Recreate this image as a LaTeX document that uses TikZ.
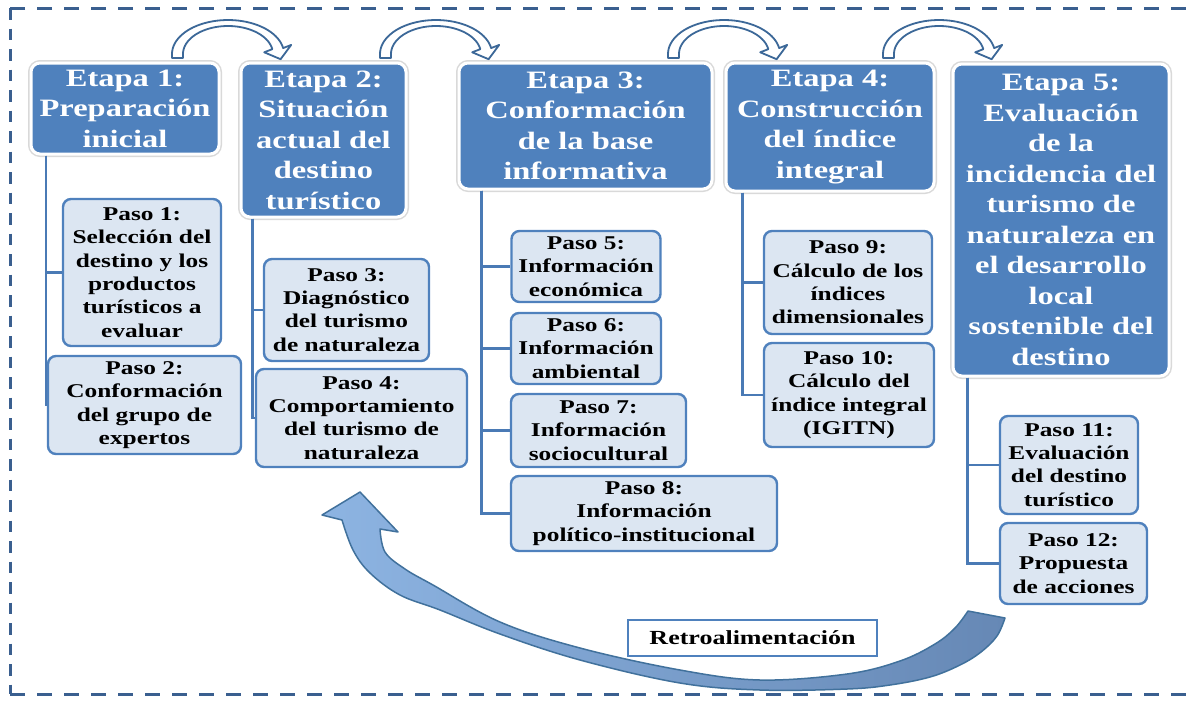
\documentclass[tikz,border=0pt]{standalone}
\usepackage{fontspec}
\setmainfont{Liberation Serif}[FakeStretch=1.3]
\definecolor{stagefill}{HTML}{4F81BD}
\definecolor{stepfill}{HTML}{DCE6F2}
\definecolor{stepline}{HTML}{4F81BD}
\definecolor{linkc}{HTML}{4A7AB5}
\definecolor{arrline}{HTML}{3C6898}
\definecolor{borderc}{HTML}{3A5F8F}
\definecolor{fbl}{HTML}{8DB4E2}
\definecolor{fbr}{HTML}{6688B5}
\definecolor{fbline}{HTML}{41719C}
\newcommand\hollowarrow[1]{%
\begin{scope}[shift={(#1,0)}]
\draw[toparrow] (0,58) -- plot[domain=180:350,samples=40] ({56+56*cos(\x)},{54+34*sin(\x)}) -- (119.2,44.9) -- (108.6,59.2) -- (92.2,52.3) -- plot[domain=350:180,samples=40] ({56+45*cos(\x)},{54+28*sin(\x)}) -- (11,58) -- cycle;
\end{scope}}
\begin{document}
\begin{tikzpicture}[x=1pt,y=-1pt,
  stagebox/.style={rectangle, rounded corners=9pt, fill=stagefill, draw=white, line width=3pt,
    preaction={draw=black!15, line width=6pt}, text=white,
    font=\fontsize{25}{30.5}\selectfont\bfseries, align=center, inner sep=0pt},
  pasobox/.style={rectangle, rounded corners=8pt, fill=stepfill, draw=stepline, line width=2.4pt,
    text=black, font=\fontsize{19.5}{23.3}\selectfont\bfseries, align=center, inner sep=0pt},
  retrobox/.style={rectangle, fill=white, draw=stepline, line width=2.6pt, text=black,
    font=\fontsize{20}{24}\selectfont\bfseries, inner sep=0pt},
  link/.style={draw=linkc, line width=2.6pt},
  toparrow/.style={fill=white, draw=arrline, line width=1.8pt, line join=round},
  border/.style={draw=borderc, line width=3pt}
]
\useasboundingbox (0,0) rectangle (1186,702);
% dashed frame
\draw[border, dash pattern=on 15pt off 12pt] (1186,8) -- (10,8);
\draw[border, dash pattern=on 11.5pt off 9pt] (10,8) -- (10,694);
\draw[border, dash pattern=on 15pt off 12pt] (10,694) -- (1186,694);

% stage nodes
\node[stagebox, minimum width=188pt, minimum height=91pt] (e1) at (125,108.5) {Etapa 1:\\Preparación\\inicial};
\node[stagebox, minimum width=165pt, minimum height=154pt] (e2) at (323.5,140) {Etapa 2:\\Situación\\actual del\\destino\\turístico};
\node[stagebox, minimum width=253pt, minimum height=126pt] (e3) at (585.5,126) {Etapa 3:\\Conformación\\de la base\\informativa};
\node[stagebox, minimum width=208pt, minimum height=128pt] (e4) at (830,127) {Etapa 4:\\Construcción\\del índice\\integral};
\node[stagebox, minimum width=216pt, minimum height=312pt] (e5) at (1061,220) {Etapa 5:\\Evaluación\\de la\\incidencia del\\turismo de\\naturaleza en\\el desarrollo\\local\\sostenible del\\destino};

% paso nodes
\node[pasobox, minimum width=158pt, minimum height=147pt] (p1) at (142,272.5) {Paso 1:\\Selección del\\destino y los\\productos\\turísticos a\\evaluar};
\node[pasobox, minimum width=193pt, minimum height=98pt] (p2) at (144.5,405) {Paso 2:\\Conformación\\del grupo de\\expertos};
\node[pasobox, minimum width=165pt, minimum height=102pt] (p3) at (346.5,310) {Paso 3:\\Diagnóstico\\del turismo\\de naturaleza};
\node[pasobox, minimum width=211pt, minimum height=98pt] (p4) at (361.5,418) {Paso 4:\\Comportamiento\\del turismo de\\naturaleza};
\node[pasobox, minimum width=149pt, minimum height=71pt] (p5) at (586,266.5) {Paso 5:\\Información\\económica};
\node[pasobox, minimum width=150pt, minimum height=71pt] (p6) at (586,348.5) {Paso 6:\\Información\\ambiental};
\node[pasobox, minimum width=175pt, minimum height=73pt] (p7) at (598.5,430.5) {Paso 7:\\Información\\sociocultural};
\node[pasobox, minimum width=266pt, minimum height=75pt] (p8) at (644,513.5) {Paso 8:\\Información\\político-institucional};
\node[pasobox, minimum width=168pt, minimum height=103pt] (p9) at (848,282.5) {Paso 9:\\Cálculo de los\\índices\\dimensionales};
\node[pasobox, minimum width=170pt, minimum height=104pt] (p10) at (849,395) {Paso 10:\\Cálculo del\\índice integral\\(IGITN)};
\node[pasobox, minimum width=138pt, minimum height=98pt] (p11) at (1069,465) {Paso 11:\\Evaluación\\del destino\\turístico};
\node[pasobox, minimum width=147pt, minimum height=81pt] (p12) at (1073.5,563.5) {Paso 12:\\Propuesta\\de acciones};

% connectors
\draw[link] ([xshift=16.5pt]e1.south west) |- (p1.west);
\draw[link] ([xshift=16.5pt]e1.south west) |- (p2.west);
\draw[link] ([xshift=13pt]e2.south west) |- (p3.west);
\draw[link] ([xshift=13pt]e2.south west) |- (p4.west);
\draw[link] ([xshift=24pt]e3.south west) |- (p5.west);
\draw[link] ([xshift=24pt]e3.south west) |- (p6.west);
\draw[link] ([xshift=24pt]e3.south west) |- (p7.west);
\draw[link] ([xshift=24pt]e3.south west) |- (p8.west);
\draw[link] ([xshift=18pt]e4.south west) |- (p9.west);
\draw[link] ([xshift=18pt]e4.south west) |- (p10.west);
\draw[link] ([xshift=16pt]e5.south west) |- (p11.west);
\draw[link] ([xshift=16pt]e5.south west) |- (p12.west);

% top hollow arrows
\hollowarrow{172}
\hollowarrow{380}
\hollowarrow{668}
\hollowarrow{883}

% feedback arrow
\draw[left color=fbl, right color=fbr, draw=fbline, line width=1.5pt, line join=round]
  (360,492) -- (398,532) -- (380,529)
  -- plot[smooth, tension=0.6] coordinates {(380,529) (385,552) (405,569) (433,585) (500,622) (580,648) (680,670) (760,680) (847,674) (900,661) (935,644) (955,628) (968,611)}
  -- (1005,618)
  -- plot[smooth, tension=0.6] coordinates {(1005,618) (997,636) (981,652) (960,665) (930,677) (890,685) (847,689) (760,690) (680,683) (580,660) (500,634) (440,610) (400,595) (370,573) (353,550) (342,520)}
  -- (322,515) -- cycle;

\node[retrobox, minimum width=249pt, minimum height=36pt] (r) at (752.5,638) {Retroalimentación};
\end{tikzpicture}
\end{document}
